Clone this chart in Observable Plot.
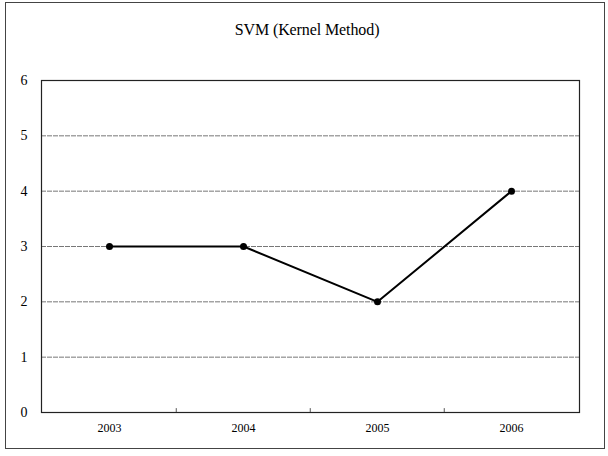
<!DOCTYPE html>
<html>
<head>
<meta charset="utf-8">
<script src="https://cdn.jsdelivr.net/npm/d3@7"></script>
<script src="https://cdn.jsdelivr.net/npm/@observablehq/plot@0.6"></script>
<style>
  html, body { margin: 0; padding: 0; background: #fff; }
  #wrap { position: relative; width: 608px; height: 456px; overflow: hidden; background: #fff; }
  #border { position: absolute; left: 5px; top: 2px; width: 600px; height: 447px; border: 1px solid #444; box-sizing: border-box; }
  #title { position: absolute; left: 0; width: 614px; top: 22px; text-align: center;
           font-family: "Liberation Serif", serif; font-size: 16px; line-height: 16px; color: #000; letter-spacing: -0.1px; }
  #chart { position: absolute; left: 0; top: 56px; }
</style>
</head>
<body>
<div id="wrap">
  <div id="border"></div>
  <div id="title">SVM (Kernel Method)</div>
  <div id="chart"></div>
</div>
<script>
const years = ["2003", "2004", "2005", "2006"];
const values = [3, 3, 2, 4];
const yTicks = [0, 1, 2, 3, 4, 5, 6];
const gridValues = [1, 2, 3, 4, 5];

const data = years.map((y, i) => ({year: y, value: values[i]}));

const W = 608, H = 400, mL = 41, mR = 29, mT = 24, mB = 44;
const halfBand = (W - mL - mR) / years.length / 2;

const plot = Plot.plot({
  width: W,
  height: H,
  marginLeft: mL,
  marginRight: mR,
  marginTop: mT,
  marginBottom: mB,
  style: { fontFamily: "Liberation Serif, serif", fontSize: "12px", color: "#000", background: "transparent" },
  x: { type: "band", domain: years, padding: 0, label: null },
  y: { domain: [0, 6], label: null },
  marks: [
    Plot.ruleY(gridValues, { stroke: "#777", strokeWidth: 1, strokeDasharray: "5,1" }),
    Plot.frame({ stroke: "#222", strokeWidth: 1.2 }),
    Plot.ruleX(years.slice(1), { x: d => d, y1: 0, y2: 0.07, dx: -halfBand, stroke: "#555", strokeWidth: 1 }),
    Plot.axisY({ ticks: yTicks, tickSize: 0, tickPadding: 14, label: null, fontSize: 14, fill: "#000", tickFormat: d => String(d) }),
    Plot.axisX({ tickSize: 0, tickPadding: 11, label: null, fontSize: 12, fill: "#000", style: { letterSpacing: "-0.8px" } }),
    Plot.line(data, { x: "year", y: "value", stroke: "#000", strokeWidth: 2 }),
    Plot.dot(data, { x: "year", y: "value", r: 3.5, fill: "#000", stroke: "none" })
  ]
});
document.getElementById("chart").appendChild(plot);
</script>
</body>
</html>
